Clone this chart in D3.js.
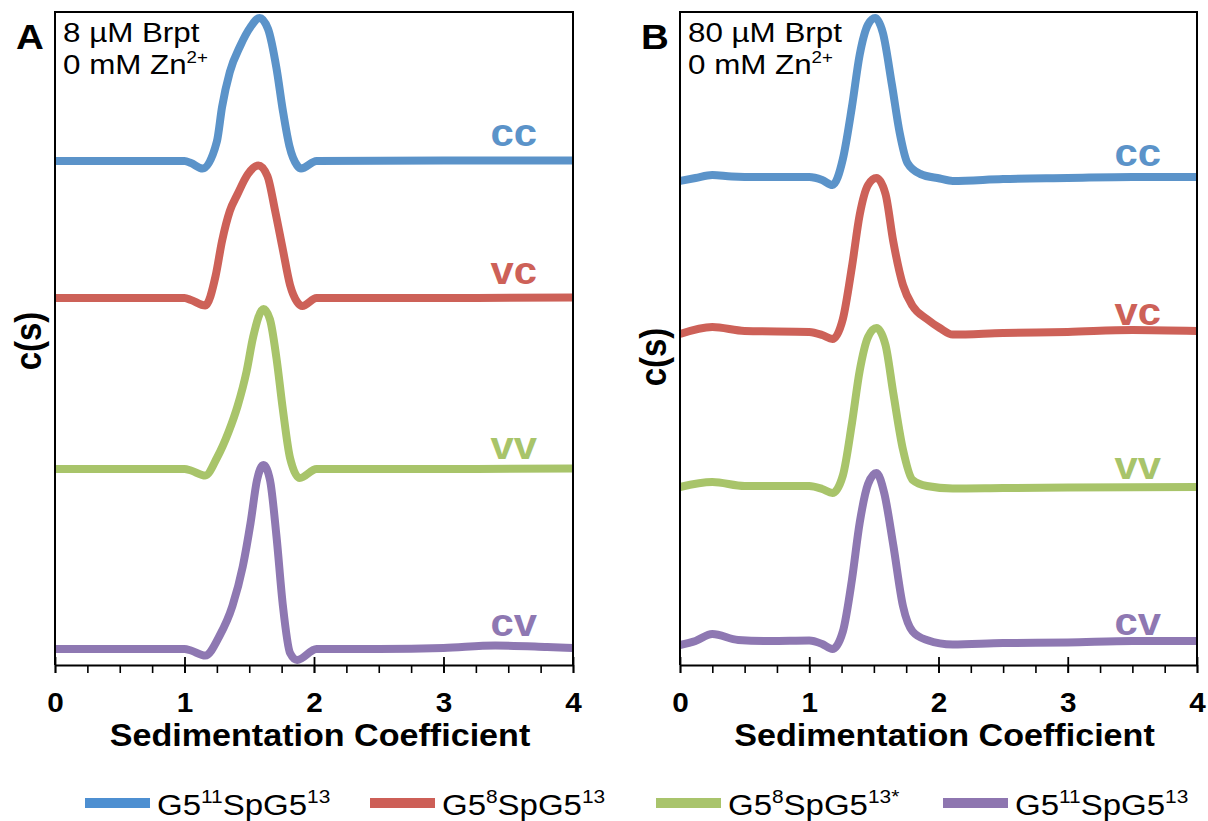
<!DOCTYPE html>
<html>
<head>
<meta charset="utf-8">
<script src="https://cdn.jsdelivr.net/npm/d3@7/dist/d3.min.js"></script>
<style>
  body { margin: 0; background: #fff; }
  svg { display: block; font-family: "Liberation Sans", Arial, Helvetica, sans-serif; }
</style>
</head>
<body>
<svg id="chart" width="1208" height="821"></svg>
<script>
// ---------- data ----------
const xTicks = [0, 1, 2, 3, 4];
const minorTicks = d3.range(0, 4.001, 0.25);
const curveLabels = ["cc", "vc", "vv", "cv"];
const lineColors = ["#5b93c9", "#cd6158", "#a8c46a", "#8e78b2"];
const legendColors = ["#4d8fd1", "#cd5f57", "#a9c46c", "#8e76b0"];
const legendBase = [["G5", "11", "SpG5", "13"], ["G5", "8", "SpG5", "13"], ["G5", "8", "SpG5", "13*"], ["G5", "11", "SpG5", "13"]];
const panelTitles = [["8 µM Brpt", "0 mM Zn"], ["80 µM Brpt", "0 mM Zn"]];
const panelLetters = ["A", "B"];

// baseline offsets of the stacked c(s) traces (arbitrary units)
const offsetsA = [50.4, 36.7, 19.6, 1.6];
const offsetsB = [48.9, 33.3, 17.9, 2.5];

// Panel A traces: sedimentation coefficient and c(s)
const A_cc_s = [0, 0.5, 1.0, 1.05, 1.14, 1.25, 1.29, 1.35, 1.43, 1.51, 1.58, 1.645, 1.71, 1.76, 1.81, 1.87, 1.90, 2.02, 3.0, 4.0];
const A_cc_c = [0, 0, 0, -0.2, -0.75, 1.94, 5.4, 8.9, 11.5, 13.4, 14.3, 13.2, 9.3, 5.0, 1.5, -0.45, -0.75, 0, 0.05, 0.05];
const A_vc_s = [0, 0.5, 1.0, 1.05, 1.16, 1.24, 1.29, 1.35, 1.41, 1.49, 1.57, 1.64, 1.70, 1.76, 1.815, 1.87, 1.91, 2.02, 3.0, 4.0];
const A_vc_c = [0, 0, 0, -0.2, -0.75, 2.2, 5.7, 8.7, 10.4, 12.4, 13.25, 12.2, 8.7, 4.8, 1.3, -0.4, -0.8, 0, 0, 0.05];
const A_vv_s = [0, 0.5, 1.0, 1.05, 1.16, 1.25, 1.34, 1.41, 1.48, 1.53, 1.61, 1.66, 1.71, 1.76, 1.815, 1.89, 2.02, 3.0, 4.0];
const A_vv_c = [0, 0, 0, -0.15, -0.65, 1.1, 3.7, 6.3, 9.8, 13.2, 16.0, 14.95, 11.1, 5.9, 1.1, -0.9, 0, 0, 0.05];
const A_cv_s = [0, 0.5, 1.0, 1.05, 1.16, 1.27, 1.37, 1.45, 1.51, 1.56, 1.61, 1.66, 1.71, 1.76, 1.815, 1.87, 2.02, 2.5, 3.0, 3.4, 3.8, 4.0];
const A_cv_c = [0, 0, 0, -0.15, -0.65, 1.3, 4.3, 8.25, 12.6, 16.9, 18.4, 16.9, 11.3, 4.3, -0.4, -1.1, 0, 0, 0.1, 0.35, 0.2, 0.1];

// Panel B traces
const B_cc_s = [0, 0.12, 0.25, 0.4, 0.6, 1.0, 1.1, 1.18, 1.26, 1.33, 1.39, 1.455, 1.51, 1.57, 1.64, 1.70, 1.76, 1.86, 2.01, 2.11, 2.5, 3.0, 3.5, 4.0];
const B_cc_c = [-0.5, -0.2, 0.1, -0.05, -0.1, -0.1, -0.4, -0.9, 1.7, 6.9, 12.1, 15.15, 15.8, 14.3, 9.1, 4.3, 1.3, 0.2, -0.25, -0.5, -0.3, -0.2, -0.1, -0.1];
const B_vc_s = [0, 0.25, 0.5, 1.0, 1.1, 1.18, 1.26, 1.33, 1.39, 1.455, 1.52, 1.59, 1.65, 1.725, 1.80, 1.91, 2.01, 2.11, 2.5, 3.0, 3.5, 4.0];
const B_vc_c = [-0.2, 0.5, 0.1, 0, -0.3, -0.7, 1.3, 6.5, 11.7, 14.7, 15.4, 13.8, 9.05, 4.7, 2.6, 1.3, 0.4, -0.26, -0.1, 0, 0.2, 0.1];
const B_vv_s = [0, 0.25, 0.5, 1.0, 1.1, 1.18, 1.26, 1.33, 1.39, 1.455, 1.52, 1.59, 1.65, 1.725, 1.80, 1.91, 2.11, 2.5, 3.0, 4.0];
const B_vv_c = [-0.1, 0.4, 0, 0, -0.3, -0.7, 1.05, 6.25, 11.5, 14.9, 15.8, 14.1, 9.3, 3.65, 0.6, 0, -0.25, -0.2, -0.15, -0.1];
const B_cv_s = [0, 0.12, 0.25, 0.45, 0.7, 1.0, 1.1, 1.18, 1.26, 1.33, 1.39, 1.455, 1.52, 1.58, 1.65, 1.725, 1.80, 1.91, 2.11, 2.5, 3.0, 3.5, 4.0];
const B_cv_c = [-0.5, -0.1, 0.6, 0, -0.1, -0.05, -0.4, -0.9, 0.85, 6.0, 11.7, 15.6, 16.7, 14.7, 9.5, 3.4, 0.85, 0, -0.46, -0.3, -0.25, -0.1, -0.1];

const panels = [
  { letter: 0, left: 55, right: 573, offsets: offsetsA,
    s: [A_cc_s, A_vc_s, A_vv_s, A_cv_s], c: [A_cc_c, A_vc_c, A_vv_c, A_cv_c],
    ylabelY: 341, labelGap: [15, 14, 10, 13] },
  { letter: 1, left: 680, right: 1197, offsets: offsetsB,
    s: [B_cc_s, B_vc_s, B_vv_s, B_cv_s], c: [B_cc_c, B_vc_c, B_vv_c, B_cv_c],
    ylabelY: 357, labelGap: [10, 7, 7, 5] }
];

// ---------- drawing ----------
const svg = d3.select("#chart");
const plotTop = 12, plotBottom = 665;
const stretch = 1.1; // the original figure's text is slightly widened
const y = d3.scaleLinear().domain([0, 65.3]).range([plotBottom, plotTop]);

function stext(parent, x, yy) {
  return parent.append("text").attr("transform", `translate(${x},${yy}) scale(${stretch},1)`);
}

panels.forEach((p, pi) => {
  const x = d3.scaleLinear().domain([0, 4]).range([p.left, p.right]);
  const g = svg.append("g");

  // traces
  const line = d3.line().x(d => x(d[0])).y(d => y(d[1])).curve(d3.curveMonotoneX);
  p.s.forEach((sArr, i) => {
    const pts = sArr.map((s, k) => [s, p.c[i][k] + p.offsets[i]]);
    g.append("path").datum(pts)
      .attr("d", line)
      .attr("fill", "none")
      .attr("stroke", lineColors[i])
      .attr("stroke-width", 8)
      .attr("stroke-linejoin", "round");
  });

  // frame (left, top, right)
  g.append("path")
    .attr("d", `M${p.left},${plotBottom}V${plotTop}H${p.right}V${plotBottom}`)
    .attr("fill", "none").attr("stroke", "#000").attr("stroke-width", 2);

  // minor ticks
  g.append("g").attr("transform", `translate(0,${plotBottom})`)
    .call(d3.axisBottom(x).tickValues(minorTicks).tickSize(8).tickFormat(""))
    .call(a => a.select(".domain").remove())
    .call(a => a.selectAll("line").attr("stroke-width", 1.6));
  // major ticks up
  g.append("g").attr("transform", `translate(0,${plotBottom})`)
    .call(d3.axisTop(x).tickValues(xTicks).tickSize(8).tickFormat(""))
    .call(a => a.select(".domain").remove())
    .call(a => a.selectAll("line").attr("stroke-width", 1.8));
  // major ticks down + labels + axis line
  const ax = g.append("g").attr("transform", `translate(0,${plotBottom})`)
    .call(d3.axisBottom(x).tickValues(xTicks).tickSize(8).tickSizeOuter(0).tickFormat(d3.format("d")));
  ax.select(".domain").attr("stroke-width", 2);
  ax.selectAll("line").attr("stroke-width", 1.8);
  ax.selectAll("text")
    .attr("y", null).attr("dy", null)
    .attr("transform", `translate(0,47) scale(${stretch},1)`)
    .attr("font-size", 27).attr("font-weight", "bold")
    .attr("font-family", "'Liberation Sans', Arial, sans-serif")
    .attr("fill", "#000");

  // x label
  stext(g, (p.left + p.right) / 2 + 6, 746)
    .attr("text-anchor", "middle")
    .attr("font-size", 31).attr("font-weight", "bold")
    .text("Sedimentation Coefficient");

  // y label
  g.append("text")
    .attr("transform", `translate(${p.left - 14},${p.ylabelY}) rotate(-90) scale(1,${stretch})`)
    .attr("text-anchor", "middle")
    .attr("font-size", 33).attr("font-weight", "bold")
    .text("c(s)");

  // panel letter
  stext(g, p.left - 39, 49)
    .attr("font-size", 35).attr("font-weight", "bold")
    .text(panelLetters[p.letter]);

  // condition text
  const t = panelTitles[pi];
  stext(g, p.left + 8, 42).attr("font-size", 28.5).text(t[0]);
  const t2 = stext(g, p.left + 8, 74).attr("font-size", 28.5);
  t2.append("tspan").text(t[1]);
  t2.append("tspan").attr("font-size", 17).attr("dy", -11).text("2+");

  // trace labels
  p.offsets.forEach((off, i) => {
    stext(g, p.right - 36, y(off) - p.labelGap[i])
      .attr("text-anchor", "end")
      .attr("font-size", 38).attr("font-weight", "bold")
      .attr("fill", lineColors[i])
      .text(curveLabels[i]);
  });
});

// legend
const legendX = [85, 370, 656, 943];
legendBase.forEach((parts, i) => {
  const lg = svg.append("g");
  lg.append("line")
    .attr("x1", legendX[i]).attr("x2", legendX[i] + 65)
    .attr("y1", 803).attr("y2", 803)
    .attr("stroke", legendColors[i]).attr("stroke-width", 10);
  const tx = stext(lg, legendX[i] + 72, 815).attr("font-size", 30);
  tx.append("tspan").text(parts[0]);
  tx.append("tspan").attr("font-size", 19).attr("dy", -12).text(parts[1]);
  tx.append("tspan").attr("dy", 12).text(parts[2]);
  tx.append("tspan").attr("font-size", 19).attr("dy", -12).text(parts[3]);
});
</script>
</body>
</html>
